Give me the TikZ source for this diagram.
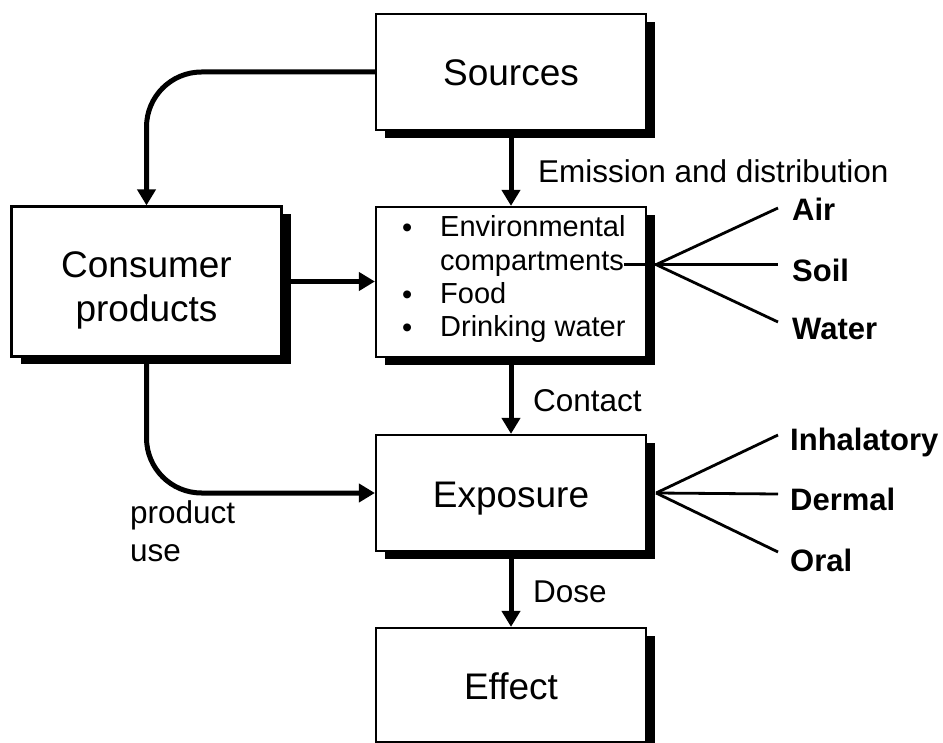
\documentclass[tikz,border=0pt]{standalone}
\usepackage{fontspec}
\setmainfont{Liberation Sans}
\usetikzlibrary{arrows.meta,shadows}
\begin{document}
\begin{tikzpicture}[x=1pt,y=-1pt,
  box/.style={draw,line width=2.2pt,fill=white,inner sep=0pt,minimum width=270pt,
    drop shadow={shadow xshift=9pt,shadow yshift=-8pt,fill=black,opacity=1},
    font=\fontsize{37}{44}\selectfont, text height=28pt, text depth=0pt},
  arr/.style={line width=5pt,-{Triangle[length=16pt,width=18pt]}},
  fan/.style={line width=2.8pt},
  lab/.style={font=\fontsize{31.5}{38}\selectfont,anchor=base west,inner sep=0pt},
  blab/.style={font=\fontsize{31}{38}\selectfont\bfseries,anchor=base west,inner sep=0pt},
  item/.style={font=\fontsize{29}{34}\selectfont,anchor=base west,inner sep=0pt},
]
\useasboundingbox (0,0) rectangle (943,743);
% boxes
\node[box,minimum height=116pt] (sources) at (511,72) {Sources};
\node[box,minimum height=150pt,text height=0pt] (env) at (511,282) {};
\node[box,minimum height=150pt,align=center,text height=81pt] (consumer) at (146.5,281.5) {Consumer\\products};
\node[box,minimum height=116pt] (exposure) at (511,493) {Exposure};
\node[box,minimum height=114pt] (effect) at (511,685) {Effect};
% list in env box
\node[item] (b1) at (402,238) {•};
\node[item] (b3) at (402,305) {•};
\node[item] (b4) at (402,338) {•};
\node[item] (envA) at (440,237) {Environmental};
\node[item] (envB) at (440,271) {compartments};
\node[item] (envC) at (440,304) {Food};
\node[item] (envD) at (440,337) {Drinking water};
% arrow labels
\node[lab] (emis) at (538,183) {Emission and distribution};
\node[lab] (contact) at (533,411) {Contact};
\node[lab] (dose) at (533,602) {Dose};
\node[lab] (prod) at (130,523) {product};
\node[lab] (use) at (130,561) {use};
% side labels
\node[blab] (air) at (792,221) {Air};
\node[blab] (soil) at (792,282) {Soil};
\node[blab] (water) at (792,340) {Water};
\node[blab] (inh) at (790,450) {Inhalatory};
\node[blab] (derm) at (790,510) {Dermal};
\node[blab] (oral) at (790,571) {Oral};
% arrows
\draw[arr,rounded corners=55pt] (sources.west) -| (consumer.north);
\draw[arr] (sources.south) -- (env.north);
\draw[arr] (consumer.east) -- (consumer.east -| env.west);
\draw[arr] (env.south) -- (exposure.north);
\draw[arr,rounded corners=55pt] (consumer.south) |- (exposure.west);
\draw[arr] (exposure.south) -- (effect.north);
% fans
\coordinate (rx) at (778,0);
\coordinate (fanE) at ([xshift=9pt]envB.east -| env.east);
\coordinate (airEnd) at (778,208);
\coordinate (soilEnd) at (fanE -| rx);
\coordinate (waterEnd) at (778,322);
\draw[fan] (envB.east) -- (fanE);
\draw[fan] (fanE) -- (airEnd);
\draw[fan] (fanE) -- (soilEnd);
\draw[fan] (fanE) -- (waterEnd);
\coordinate (fanX) at ([xshift=9pt]exposure.east);
\coordinate (inhEnd) at (778,435);
\coordinate (dermEnd) at (778,494);
\coordinate (oralEnd) at (778,552);
\draw[fan] (fanX) -- (inhEnd);
\draw[fan] (fanX) -- (dermEnd);
\draw[fan] (fanX) -- (oralEnd);
\end{tikzpicture}
\end{document}
